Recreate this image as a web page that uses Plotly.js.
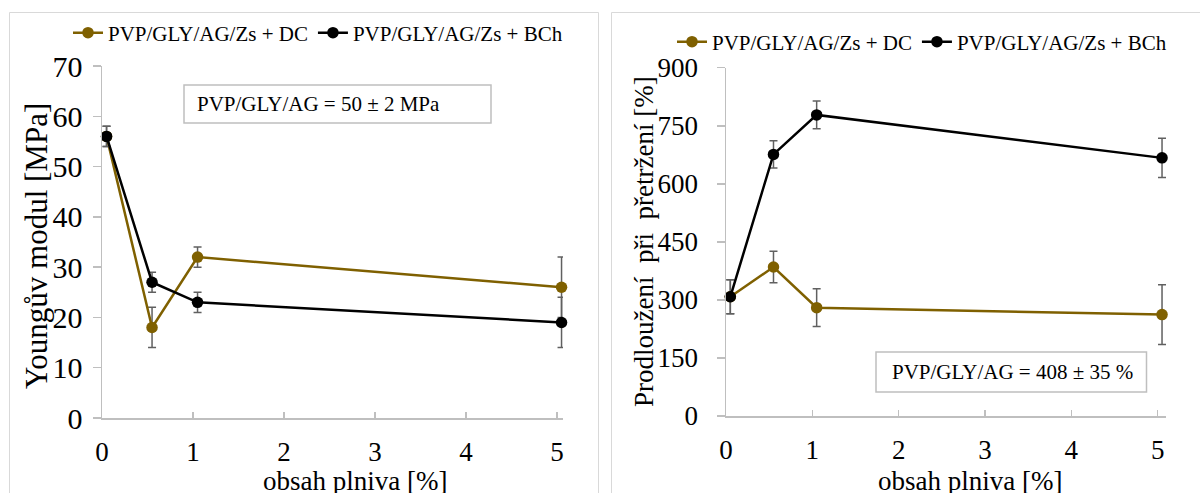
<!DOCTYPE html>
<html>
<head>
<meta charset="utf-8">
<script src="https://cdn.plot.ly/plotly-3.0.1.min.js"></script>
<style>
  html, body { margin: 0; padding: 0; background: #ffffff; }
  #chart { width: 1200px; height: 493px; }
</style>
</head>
<body>
<div id="chart"></div>
<script>
// Filler content [%] shared by both panels
const fillerPct = [0.05, 0.55, 1.05, 5.05];
const seriesNames = ['PVP/GLY/AG/Zs + DC', 'PVP/GLY/AG/Zs + BCh'];

// Young's modulus [MPa]
const youngDC = [56, 18, 32, 26];
const youngDCErr = [2, 4, 2, 6];
const youngBCh = [56, 27, 23, 19];
const youngBChErr = [2, 2, 2, 5];

// Elongation at break [%]
const elongDC = [308, 385, 280, 262];
const elongDCErr = [44, 41, 49, 77];
const elongBCh = [308, 676, 778, 667];
const elongBChErr = [44, 35, 36, 51];

// Tick labels
const xTicks = [0, 1, 2, 3, 4, 5];
const youngTicks = [0, 10, 20, 30, 40, 50, 60, 70];
const elongTicks = [0, 150, 300, 450, 600, 750, 900];

// Reference values of the unfilled film
const youngRefText = 'PVP/GLY/AG = 50 ± 2 MPa';
const elongRefText = 'PVP/GLY/AG = 408 ± 35 %';

const W = 1200, H = 493;
const px = x => x / W;          // pixel column -> paper x
const py = y => 1 - y / H;      // pixel row -> paper y

const FONT = 'Liberation Serif';
const GOLD = '#7f6000';
const BLACK = '#000000';
const AXIS = '#bfbfbf';
const ERR = '#606060';

function series(x, y, err, name, color, xa, ya, legend) {
  return {
    type: 'scatter', mode: 'lines+markers',
    x: x, y: y, name: name,
    xaxis: xa, yaxis: ya, legend: legend,
    cliponaxis: false,
    line: { color: color, width: 2.5 },
    marker: { color: color, size: 11.5 },
    error_y: { type: 'data', array: err, visible: true, color: ERR, thickness: 1.5, width: 4 },
    hoverinfo: 'x+y'
  };
}

const traces = [
  series(fillerPct, youngDC, youngDCErr, seriesNames[0], GOLD, 'x', 'y', 'legend'),
  series(fillerPct, youngBCh, youngBChErr, seriesNames[1], BLACK, 'x', 'y', 'legend'),
  series(fillerPct, elongDC, elongDCErr, seriesNames[0], GOLD, 'x2', 'y2', 'legend2'),
  series(fillerPct, elongBCh, elongBChErr, seriesNames[1], BLACK, 'x2', 'y2', 'legend2')
];

function xAxis(domain, range, anchor) {
  return {
    domain: domain, range: range, anchor: anchor,
    tickvals: xTicks, ticktext: xTicks.map(String),
    ticks: 'inside', ticklen: 6, tickwidth: 1.5, tickcolor: AXIS,
    showline: true, linecolor: AXIS, linewidth: 1.5,
    showgrid: false, zeroline: false,
    tickfont: { family: FONT, size: 27, color: '#000' },
    ticklabelstandoff: 9,
    fixedrange: true
  };
}
function yAxis(domain, range, ticks, anchor, size, standoff) {
  return {
    domain: domain, range: range, anchor: anchor,
    tickvals: ticks, ticktext: ticks.map(String),
    ticks: 'outside', ticklen: 8, tickwidth: 1.5, tickcolor: AXIS,
    showline: true, linecolor: AXIS, linewidth: 1.5,
    showgrid: false, zeroline: false,
    tickfont: { family: FONT, size: size, color: '#000' },
    ticklabelstandoff: standoff,
    fixedrange: true
  };
}

function legendAt(x, y) {
  return {
    x: px(x), y: py(y), xanchor: 'left', yanchor: 'middle',
    orientation: 'h', bgcolor: 'rgba(0,0,0,0)', borderwidth: 0,
    font: { family: FONT, size: 21, color: '#000' },
    traceorder: 'normal', itemclick: false, itemdoubleclick: false
  };
}

const layout = {
  width: W, height: H,
  margin: { l: 0, r: 0, t: 0, b: 0 },
  paper_bgcolor: '#ffffff', plot_bgcolor: 'rgba(0,0,0,0)',
  font: { family: FONT, color: '#000' },
  showlegend: true,
  xaxis: xAxis([px(102), px(563)], [0, 5.066], 'y'),
  yaxis: yAxis([py(418), py(66)], [0, 70], youngTicks, 'x', 30, 4),
  xaxis2: xAxis([px(726), px(1166)], [0, 5.096], 'y2'),
  yaxis2: yAxis([py(416), py(67.7)], [0, 900], elongTicks, 'x2', 27, 13),
  legend: legendAt(68, 33),
  legend2: legendAt(672, 42),
  shapes: [
    // panel frames
    { type: 'rect', xref: 'paper', yref: 'paper', x0: px(9.5), x1: px(598.5), y0: -0.2, y1: py(12.5),
      line: { color: '#d9d9d9', width: 1 }, fillcolor: 'rgba(0,0,0,0)', layer: 'below' },
    { type: 'rect', xref: 'paper', yref: 'paper', x0: px(611.5), x1: 1.2, y0: -0.2, y1: py(12.5),
      line: { color: '#d9d9d9', width: 1 }, fillcolor: 'rgba(0,0,0,0)', layer: 'below' },
    // reference value boxes
    { type: 'rect', xref: 'paper', yref: 'paper', x0: px(184), x1: px(491), y0: py(123), y1: py(85),
      line: { color: AXIS, width: 1.5 }, fillcolor: '#ffffff', layer: 'below' },
    { type: 'rect', xref: 'paper', yref: 'paper', x0: px(876), x1: px(1146.5), y0: py(392), y1: py(352),
      line: { color: AXIS, width: 1.5 }, fillcolor: '#ffffff', layer: 'below' }
  ],
  annotations: [
    { text: youngRefText, xref: 'paper', yref: 'paper', x: px(195), y: py(104),
      xanchor: 'left', yanchor: 'middle', showarrow: false,
      font: { family: FONT, size: 21, color: '#000' } },
    { text: elongRefText, xref: 'paper', yref: 'paper', x: px(890), y: py(372),
      xanchor: 'left', yanchor: 'middle', showarrow: false,
      font: { family: FONT, size: 21, color: '#000' } },
    // axis titles
    { text: 'Youngův modul [MPa]', xref: 'paper', yref: 'paper', x: px(37), y: py(246),
      xanchor: 'center', yanchor: 'middle', textangle: -90, showarrow: false,
      font: { family: FONT, size: 31, color: '#000' } },
    { text: 'Prodloužení  při  přetržení [%]', xref: 'paper', yref: 'paper', x: px(644), y: py(242),
      xanchor: 'center', yanchor: 'middle', textangle: -90, showarrow: false,
      font: { family: FONT, size: 27, color: '#000' } },
    { text: 'obsah plniva [%]', xref: 'paper', yref: 'paper', x: px(355), y: py(481),
      xanchor: 'center', yanchor: 'middle', showarrow: false,
      font: { family: FONT, size: 27, color: '#000' } },
    { text: 'obsah plniva [%]', xref: 'paper', yref: 'paper', x: px(970), y: py(481),
      xanchor: 'center', yanchor: 'middle', showarrow: false,
      font: { family: FONT, size: 27, color: '#000' } }
  ]
};

Plotly.newPlot('chart', traces, layout, { displayModeBar: false, staticPlot: true });
</script>
</body>
</html>
